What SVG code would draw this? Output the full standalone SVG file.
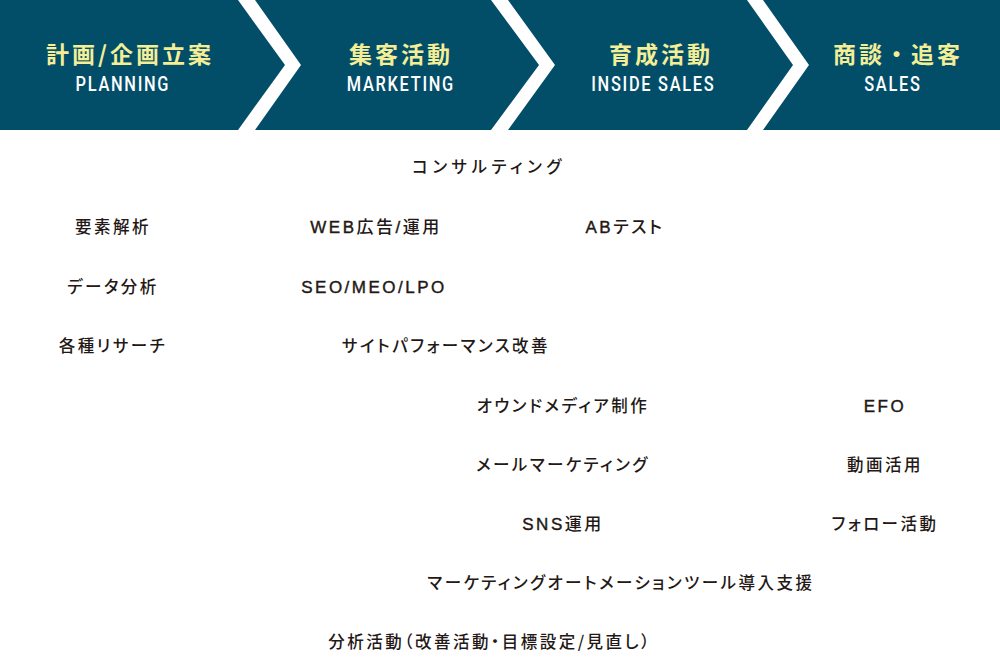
<svg xmlns="http://www.w3.org/2000/svg" width="1000" height="665" viewBox="0 0 1000 665">
<style>
.band{fill:#024e69}
.jp{font-family:"Noto Sans CJK JP","Noto Sans",sans-serif;font-size:23px;font-weight:bold;fill:#f4ef97;text-anchor:middle;letter-spacing:3px}
.en{font-family:Roboto,"Liberation Sans",sans-serif;font-size:21px;font-weight:500;fill:#ffffff;text-anchor:middle;letter-spacing:2.2px}
.item{font-family:"Noto Sans CJK JP","Noto Sans",sans-serif;font-size:16.5px;font-weight:500;fill:#231815;text-anchor:middle;letter-spacing:2.5px;font-feature-settings:"palt"}
.lat{font-family:"Liberation Sans","Noto Sans CJK JP",sans-serif;font-size:17px}
.l{stroke:#231815;stroke-width:0.4}
</style>
<rect x="0" y="0" width="1000" height="665" fill="#ffffff"/>
<g id="stage-planning">
<polygon class="band" points="0,0 238,0 285,65 238,130 0,130"/>
<text class="jp" x="130" y="63">計画/企画立案</text>
<text class="en" transform="translate(122,90.5) scale(0.78,1)" x="1.1" y="0">PLANNING</text>
</g>
<g id="stage-marketing">
<polygon class="band" points="255,0 491,0 539,65 491,130 255,130 301,65"/>
<text class="jp" x="401" y="63">集客活動</text>
<text class="en" transform="translate(400,90.5) scale(0.78,1)" x="1.1" y="0">MARKETING</text>
</g>
<g id="stage-inside-sales">
<polygon class="band" points="508,0 747,0 793,65 747,130 508,130 555,65"/>
<text class="jp" x="661" y="63">育成活動</text>
<text class="en" transform="translate(652.5,90.5) scale(0.78,1)" x="1.1" y="0">INSIDE SALES</text>
</g>
<g id="stage-sales">
<polygon class="band" points="763,0 1000,0 1000,130 763,130 809,65"/>
<text class="jp" x="898" y="63">商談・追客</text>
<text class="en" transform="translate(892,90.5) scale(0.78,1)" x="1.1" y="0">SALES</text>
</g>
<g id="connectors"></g>
<g id="items">
<text class="item" x="489" y="173" style="letter-spacing:4.5px">コンサルティング</text>
<text class="item" x="113" y="233">要素解析</text>
<text class="item lat" x="376" y="233"><tspan class="l">WEB</tspan>広告<tspan class="l">/</tspan>運用</text>
<text class="item lat" x="625" y="233"><tspan class="l">AB</tspan>テスト</text>
<text class="item" x="113" y="293">データ分析</text>
<text class="item lat l" x="374" y="293">SEO/MEO/LPO</text>
<text class="item" x="113" y="352">各種リサーチ</text>
<text class="item" x="446" y="352">サイトパフォーマンス改善</text>
<text class="item" x="563" y="412">オウンドメディア制作</text>
<text class="item lat l" x="885" y="412">EFO</text>
<text class="item" x="563" y="471">メールマーケティング</text>
<text class="item" x="885" y="471">動画活用</text>
<text class="item lat" x="563" y="530"><tspan class="l">SNS</tspan>運用</text>
<text class="item" x="885" y="530">フォロー活動</text>
<text class="item" x="621" y="589">マーケティングオートメーションツール導入支援</text>
<text class="item" x="490" y="648">分析活動（改善活動・目標設定/見直し）</text>
</g>
</svg>
